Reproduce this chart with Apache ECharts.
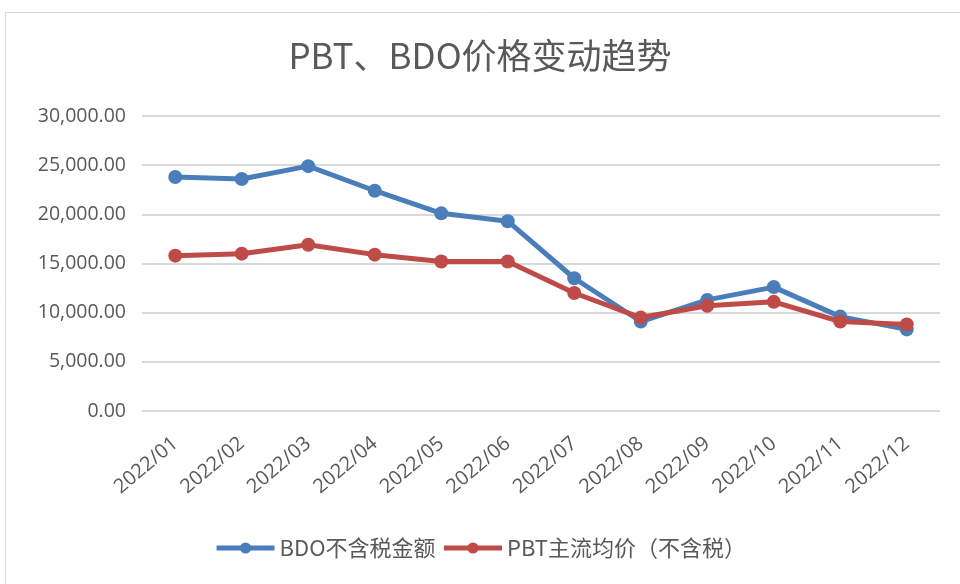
<!DOCTYPE html>
<html><head><meta charset="utf-8">
<script src="https://cdn.jsdelivr.net/npm/echarts@6/dist/echarts.min.js"></script>
<style>html,body{margin:0;padding:0;background:#fff}#c{width:960px;height:584px}</style>
</head><body><div id="c"></div>
<script>
var categories = ['2022/01','2022/02','2022/03','2022/04','2022/05','2022/06','2022/07','2022/08','2022/09','2022/10','2022/11','2022/12'];
var bdoValues = [23800,23600,24900,22400,20100,19300,13500,9100,11300,12600,9600,8300];
var pbtValues = [15800,16000,16900,15900,15200,15200,12000,9500,10700,11100,9100,8800];
var seriesNames = ['BDO不含税金额','PBT主流均价（不含税）'];
var titleText = 'PBT、BDO价格变动趋势';

function fmt(v){
  var s = Math.round(v).toString().replace(/\B(?=(\d{3})+(?!\d))/g, ',');
  return s + '.00';
}
var font = '"Noto Sans CJK SC", "Open Sans", sans-serif';
var numFont = '"Open Sans", "Noto Sans", sans-serif';
var chart = echarts.init(document.getElementById('c'));
chart.setOption({
  animation:false,
  backgroundColor:'#fff',
  graphic:[{type:'rect',shape:{x:5.5,y:12.5,width:1000,height:600},style:{fill:'none',stroke:'#d9d9d9',lineWidth:1},silent:true,z:-1}],
  title:{text:titleText,left:'center',top:33,textStyle:{fontFamily:font,fontSize:35,fontWeight:'normal',color:'#595959'}},
  legend:{bottom:20,left:'center',itemWidth:58,itemHeight:14,itemGap:6,
    lineStyle:{width:5},
    textStyle:{fontFamily:font,fontSize:22,color:'#595959'},
    data:seriesNames},
  grid:{left:142,right:20,top:116,bottom:173,containLabel:false},
  xAxis:{type:'category',data:categories,boundaryGap:true,
    axisLine:{show:true,lineStyle:{color:'#d9d9d9',width:1}},axisTick:{show:false},
    axisLabel:{rotate:40,fontFamily:numFont,fontSize:20,color:'#595959',margin:30}},
  yAxis:{type:'value',min:0,max:30000,interval:5000,
    axisLine:{show:false},axisTick:{show:false},
    splitLine:{lineStyle:{color:'#d9d9d9',width:2}},
    axisLabel:{formatter:fmt,fontFamily:numFont,fontSize:19.5,color:'#595959',margin:16}},
  series:[
    {name:seriesNames[0],type:'line',data:bdoValues,symbol:'circle',symbolSize:14,
     lineStyle:{color:'#4A7EBB',width:5},itemStyle:{color:'#4A7EBB'}},
    {name:seriesNames[1],type:'line',data:pbtValues,symbol:'circle',symbolSize:14,
     lineStyle:{color:'#BE4B48',width:5},itemStyle:{color:'#BE4B48'}}
  ]
});
</script></body></html>
